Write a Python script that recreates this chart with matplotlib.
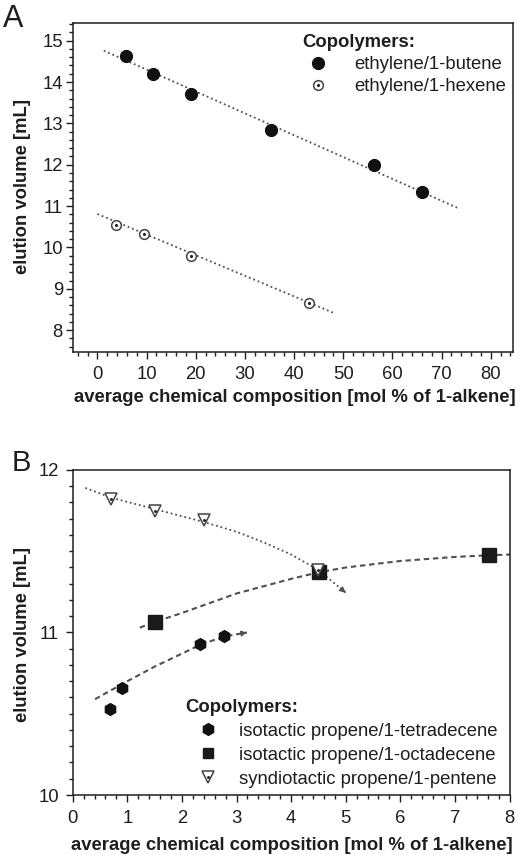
import matplotlib
matplotlib.use("Agg")
import matplotlib.pyplot as plt
from matplotlib.legend_handler import HandlerTuple
from matplotlib.lines import Line2D
from matplotlib.ticker import MultipleLocator

plt.rcParams["font.family"] = ["Liberation Sans", "DejaVu Sans"]

# panel A: ethylene copolymers
butene_x = [5.8, 11.3, 19.1, 35.4, 56.2, 66.1]
butene_y = [14.64, 14.2, 13.71, 12.85, 12.0, 11.33]
hexene_x = [3.8, 9.4, 19.1, 43.1]
hexene_y = [10.55, 10.33, 9.79, 8.66]
butene_fit_x = [1.3, 73.4]
butene_fit_y = [14.76, 10.95]
hexene_fit_x = [0.0, 48.0]
hexene_fit_y = [10.81, 8.42]

# panel B: propene copolymers
tetra_x = [0.68, 0.9, 2.34, 2.77]
tetra_y = [10.53, 10.66, 10.93, 10.98]
octa_x = [1.5, 4.52, 7.63]
octa_y = [11.065, 11.37, 11.475]
pent_x = [0.7, 1.5, 2.41, 4.5]
pent_y = [11.82, 11.75, 11.69, 11.385]
tetra_guide_x = [0.41, 1.0, 1.5, 2.0, 2.34, 2.77, 3.19]
tetra_guide_y = [10.59, 10.70, 10.79, 10.87, 10.925, 10.975, 11.0]
octa_guide_x = [1.23, 1.5, 2.0, 3.0, 4.0, 4.5, 5.0, 6.0, 7.0, 7.6, 8.02]
octa_guide_y = [11.03, 11.065, 11.12, 11.24, 11.33, 11.37, 11.40, 11.44, 11.465, 11.475, 11.48]
pent_guide_x = [0.23, 0.7, 1.5, 2.4, 3.0, 3.5, 4.0, 4.5, 5.0]
pent_guide_y = [11.89, 11.83, 11.76, 11.68, 11.62, 11.555, 11.48, 11.385, 11.245]

TXT = "#1e1e1e"
LINE = "#505050"
DOT = (0, (1, 1.6))
DASH = (0, (2.6, 1.8))
FS = 13.3
W, H = 528, 855


def style_axes(ax):
    for s in ax.spines.values():
        s.set_linewidth(1.1)
        s.set_color(TXT)
    ax.tick_params(which="both", direction="out", colors=TXT, width=1.0,
                   labelsize=FS, labelcolor=TXT)
    ax.tick_params(which="major", length=5)
    ax.tick_params(which="minor", length=3)


def arrow_end(ax, xs, ys, ls_color):
    # small arrowhead at the end of a guide curve
    x1, y1 = xs[-1], ys[-1]
    x0 = x1 - 0.2 * (x1 - xs[-2])
    y0 = y1 - 0.2 * (y1 - ys[-2])
    ax.annotate("", xy=(x1, y1), xytext=(x0, y0),
                arrowprops=dict(arrowstyle="-|>", color=ls_color, lw=1.0,
                                mutation_scale=8, shrinkA=0, shrinkB=0))


def bold_title(leg):
    t = leg.get_title()
    t.set_fontweight("bold")
    t.set_fontsize(FS)
    t.set_color(TXT)


fig = plt.figure(figsize=(W / 100, H / 100), dpi=100)

# ---------------- panel A ----------------
axA = fig.add_axes([73.3 / W, 1 - 351.7 / H, 440 / W, (351.7 - 23.3) / H])
style_axes(axA)
axA.plot(butene_fit_x, butene_fit_y, ls=DOT, color=LINE, lw=1.3)
axA.plot(hexene_fit_x, hexene_fit_y, ls=DOT, color=LINE, lw=1.3)
axA.plot(butene_x, butene_y, "o", ms=8.5, color="#111111", zorder=3)
axA.plot(hexene_x, hexene_y, "o", ms=7, mfc="white", mec="#444444", mew=1.1, zorder=3)
axA.plot(hexene_x, hexene_y, ".", ms=2.5, color="#222222", zorder=4)
axA.set_xlim(-4.9, 84.6)
axA.set_ylim(7.48, 15.42)
axA.xaxis.set_major_locator(MultipleLocator(10))
axA.xaxis.set_minor_locator(MultipleLocator(2))
axA.yaxis.set_major_locator(MultipleLocator(1))
axA.yaxis.set_minor_locator(MultipleLocator(0.2))
axA.tick_params(axis="x", pad=5)
axA.tick_params(axis="y", pad=2.5)

hA1 = Line2D([], [], ls="", marker="o", ms=8.5, color="#111111")
hA2o = Line2D([], [], ls="", marker="o", ms=7, mfc="white", mec="#444444", mew=1.1)
hA2d = Line2D([], [], ls="", marker=".", ms=2.5, color="#222222")
legA = axA.legend([hA1, (hA2o, hA2d)], ["ethylene/1-butene", "ethylene/1-hexene"],
                  handler_map={tuple: HandlerTuple(ndivide=1)},
                  title="Copolymers:", alignment="left", frameon=False,
                  loc="upper left", bbox_to_anchor=(0.52, 0.968), fontsize=FS,
                  handlelength=1.7, handletextpad=1.1, labelspacing=0.28,
                  borderpad=0.0, borderaxespad=0.0, labelcolor=TXT)
bold_title(legA)

fig.text(3 / W, 1 - 19 / H, "A", fontsize=22, color=TXT, ha="left", va="center")
fig.text(23 / W, 1 - 187 / H, "elution volume [mL]", rotation=90, fontsize=FS,
         fontweight="bold", color=TXT, ha="center", va="center")
fig.text(295 / W, 1 - 397 / H, "average chemical composition [mol % of 1-alkene]",
         fontsize=FS, fontweight="bold", color=TXT, ha="center", va="center")

# ---------------- panel B ----------------
axB = fig.add_axes([72.7 / W, 1 - 795 / H, (509.5 - 72.7) / W, (795 - 470) / H])
style_axes(axB)
axB.plot(tetra_guide_x, tetra_guide_y, ls=DASH, color=LINE, lw=1.5)
axB.plot(octa_guide_x, octa_guide_y, ls=DASH, color=LINE, lw=1.5)
axB.plot(pent_guide_x, pent_guide_y, ls=DOT, color=LINE, lw=1.3)
arrow_end(axB, tetra_guide_x, tetra_guide_y, LINE)
arrow_end(axB, octa_guide_x, octa_guide_y, LINE)
arrow_end(axB, pent_guide_x, pent_guide_y, LINE)
axB.plot(tetra_x, tetra_y, "h", ms=8.5, color="#111111", zorder=3)
axB.plot(octa_x, octa_y, "s", ms=9.5, color="#1a1a1a", zorder=3)
axB.plot(pent_x, pent_y, "v", ms=8, mfc="white", mec="#444444", mew=1.1, zorder=4)
axB.plot(pent_x, pent_y, ".", ms=2.2, color="#222222", zorder=5)
axB.set_xlim(0, 8)
axB.set_ylim(10, 12)
axB.xaxis.set_major_locator(MultipleLocator(1))
axB.xaxis.set_minor_locator(MultipleLocator(0.2))
axB.yaxis.set_major_locator(MultipleLocator(1))
axB.yaxis.set_minor_locator(MultipleLocator(0.1))
axB.tick_params(axis="x", pad=6)
axB.tick_params(axis="y", pad=5)

hB1 = Line2D([], [], ls="", marker="h", ms=8.5, color="#111111")
hB2 = Line2D([], [], ls="", marker="s", ms=7, color="#1a1a1a")
hB3o = Line2D([], [], ls="", marker="v", ms=8, mfc="white", mec="#444444", mew=1.1)
hB3d = Line2D([], [], ls="", marker=".", ms=2.2, color="#222222")
legB = axB.legend([hB1, hB2, (hB3o, hB3d)],
                  ["isotactic propene/1-tetradecene", "isotactic propene/1-octadecene",
                   "syndiotactic propene/1-pentene"],
                  handler_map={tuple: HandlerTuple(ndivide=1)},
                  title="Copolymers:", alignment="left", frameon=False,
                  loc="lower left", bbox_to_anchor=(0.257, 0.022), fontsize=FS,
                  handlelength=2.5, handletextpad=0.45, labelspacing=0.38,
                  borderpad=0.0, borderaxespad=0.0, labelcolor=TXT)
bold_title(legB)

fig.text(12 / W, 1 - 463 / H, "B", fontsize=21, color=TXT, ha="left", va="center")
fig.text(23 / W, 1 - 634 / H, "elution volume [mL]", rotation=90, fontsize=FS,
         fontweight="bold", color=TXT, ha="center", va="center")
fig.text(292 / W, 1 - 845 / H, "average chemical composition [mol % of 1-alkene]",
         fontsize=FS, fontweight="bold", color=TXT, ha="center", va="center")

fig.savefig("out.png", dpi=100, facecolor="white")
